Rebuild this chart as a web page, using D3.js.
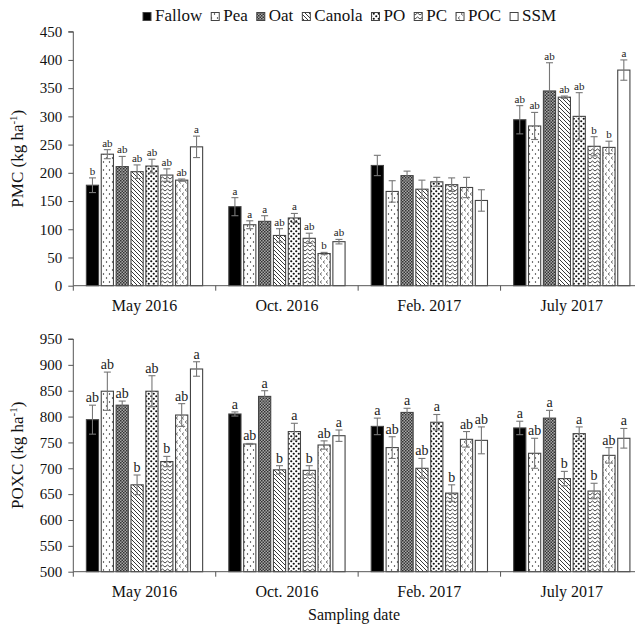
<!DOCTYPE html>
<html>
<head>
<meta charset="utf-8">
<script src="https://cdn.jsdelivr.net/npm/d3@7"></script>
<style>
  body { margin: 0; background: #fff; }
  text { font-family: "Liberation Serif", "Times New Roman", "DejaVu Serif", serif; }
</style>
</head>
<body>
<svg id="chart" width="635" height="624"></svg>
<script>
// sampling dates and cover crop treatments
const dates = ["May 2016", "Oct. 2016", "Feb. 2017", "July 2017"];
const treatments = ["Fallow", "Pea", "Oat", "Canola", "PO", "PC", "POC", "SSM"];

// PMC (kg ha-1), one row per treatment, one value per date
const pmcMean = [
  [178, 140, 213, 294],  // Fallow
  [233, 108, 167, 283],  // Pea
  [211, 114, 195, 345],  // Oat
  [202, 89, 171, 334],   // Canola
  [212, 120, 184, 300],  // PO
  [196, 84, 179, 247],   // PC
  [187, 57, 174, 245],   // POC
  [246, 78, 151, 382]    // SSM
];
const pmcErr = [
  [13, 16, 18, 25],
  [8, 7, 19, 24],
  [18, 10, 8, 50],
  [12, 12, 16, 2],
  [12, 8, 8, 42],
  [11, 9, 12, 17],
  [2, 2, 18, 11],
  [19, 4, 19, 18]
];
// letters per date (row) and treatment (column)
const pmcLetters = [
  ["b", "ab", "ab", "ab", "ab", "ab", "ab", "a"],
  ["a", "a", "a", "ab", "a", "ab", "b", "ab"],
  ["", "", "", "", "", "", "", ""],
  ["ab", "ab", "ab", "ab", "ab", "b", "b", "a"]
];

// POXC (kg ha-1)
const poxcMean = [
  [794, 805, 781, 778],
  [849, 747, 740, 729],
  [822, 839, 808, 797],
  [668, 697, 700, 680],
  [849, 771, 789, 767],
  [713, 696, 652, 656],
  [803, 745, 756, 725],
  [892, 763, 754, 758]
];
const poxcErr = [
  [28, 4, 16, 13],
  [37, 1, 21, 29],
  [8, 11, 8, 15],
  [19, 8, 19, 14],
  [30, 16, 15, 13],
  [10, 9, 16, 15],
  [22, 8, 15, 15],
  [14, 11, 26, 19]
];
const poxcLetters = [
  ["ab", "ab", "ab", "b", "ab", "b", "ab", "a"],
  ["a", "ab", "a", "b", "a", "b", "ab", "a"],
  ["a", "ab", "a", "ab", "a", "b", "ab", "ab"],
  ["a", "ab", "a", "b", "a", "b", "ab", "a"]
];

const pmcTicks = d3.range(0, 451, 50);
const poxcTicks = d3.range(500, 951, 50);

const serif = "Liberation Serif, Times New Roman, DejaVu Serif, serif";
const svg = d3.select("#chart").attr("font-family", serif);
const defs = svg.append("defs");

// fill patterns for each treatment
function makePattern(id, w, h, draw) {
  const p = defs.append("pattern")
    .attr("id", id)
    .attr("patternUnits", "userSpaceOnUse")
    .attr("width", w)
    .attr("height", h);
  p.append("rect").attr("width", w).attr("height", h).attr("fill", "#fff");
  draw(p);
}
makePattern("pea", 6, 8, p => {
  p.append("circle").attr("cx", 1.5).attr("cy", 2).attr("r", 0.7).attr("fill", "#222");
  p.append("circle").attr("cx", 4.5).attr("cy", 6).attr("r", 0.7).attr("fill", "#222");
});
makePattern("oat", 3, 3, p => {
  p.select("rect").attr("fill", "#a8a8a8");
  p.append("rect").attr("width", 1.5).attr("height", 1.5).attr("fill", "#333");
  p.append("rect").attr("x", 1.5).attr("y", 1.5).attr("width", 1.5).attr("height", 1.5).attr("fill", "#333");
});
makePattern("canola", 4, 4, p => {
  p.append("path").attr("d", "M-1,-1L5,5M-1,3L1,5M3,-1L5,1")
    .attr("stroke", "#222").attr("stroke-width", 0.9);
});
makePattern("po", 5, 5, p => {
  p.append("circle").attr("cx", 1.25).attr("cy", 1.25).attr("r", 1.1).attr("fill", "#111");
  p.append("circle").attr("cx", 3.75).attr("cy", 3.75).attr("r", 1.1).attr("fill", "#111");
});
makePattern("pc", 5, 4, p => {
  p.append("path").attr("d", "M0,3L2.5,1L5,3")
    .attr("stroke", "#333").attr("stroke-width", 0.9).attr("fill", "none");
});
makePattern("poc", 6, 8, p => {
  p.append("path").attr("d", "M4,0.5L2,2L4,3.5M1,4.5L-1,6L1,7.5M7,4.5L5,6L7,7.5")
    .attr("stroke", "#444").attr("stroke-width", 0.7).attr("fill", "none");
});

const fills = ["#000", "url(#pea)", "url(#oat)", "url(#canola)", "url(#po)", "url(#pc)", "url(#poc)", "#fff"];

const x0 = d3.scaleBand().domain(dates).range([73.3, 643]);
const x1 = d3.scaleBand().domain(treatments).range([0, x0.bandwidth()])
  .paddingInner(0.18).paddingOuter(0.88);

const axisColor = "#555";

function drawPanel(mean, err, letters, ticks, yRange, title, labelY, letterSize) {
  const y = d3.scaleLinear().domain([ticks[0], ticks[ticks.length - 1]]).range(yRange);
  const g = svg.append("g");

  // bars
  const rows = [];
  treatments.forEach((t, i) => {
    dates.forEach((d, j) => {
      rows.push({ t, d, i, j, v: mean[i][j], e: err[i][j], l: letters[j][i] });
    });
  });

  g.selectAll("rect.bar")
    .data(rows)
    .join("rect")
    .attr("class", "bar")
    .attr("x", r => x0(r.d) + x1(r.t))
    .attr("y", r => y(r.v))
    .attr("width", x1.bandwidth())
    .attr("height", r => y(ticks[0]) - y(r.v))
    .attr("fill", r => fills[r.i])
    .attr("stroke", "#444")
    .attr("stroke-width", 1.1);

  // error bars
  const eb = g.selectAll("g.err")
    .data(rows)
    .join("g")
    .attr("class", "err")
    .attr("stroke", "#777")
    .attr("stroke-width", 1.1);
  const cx = r => x0(r.d) + x1(r.t) + x1.bandwidth() / 2;
  eb.append("line")
    .attr("x1", cx).attr("x2", cx)
    .attr("y1", r => y(r.v - r.e)).attr("y2", r => y(r.v + r.e));
  eb.append("line")
    .attr("x1", r => cx(r) - 3.5).attr("x2", r => cx(r) + 3.5)
    .attr("y1", r => y(r.v + r.e)).attr("y2", r => y(r.v + r.e));
  eb.append("line")
    .attr("x1", r => cx(r) - 3.5).attr("x2", r => cx(r) + 3.5)
    .attr("y1", r => y(r.v - r.e)).attr("y2", r => y(r.v - r.e));

  // significance letters
  g.selectAll("text.letter")
    .data(rows.filter(r => r.l))
    .join("text")
    .attr("class", "letter")
    .attr("x", cx)
    .attr("y", r => y(r.v + r.e) - 3)
    .attr("text-anchor", "middle")
    .attr("font-size", letterSize)
    .attr("fill", "#222")
    .text(r => r.l);

  // y axis
  const yAxis = g.append("g")
    .attr("transform", "translate(73.3,0)")
    .call(d3.axisLeft(y).tickValues(ticks).tickSize(5).tickPadding(6))
    .attr("font-family", serif);
  yAxis.selectAll("path, line").attr("stroke", axisColor);
  yAxis.select(".domain").attr("d", `M-5,${y(ticks[ticks.length - 1])}H0V${y(ticks[0])}`);
  yAxis.selectAll("text")
    .attr("font-size", 15)
    .attr("fill", "#111");

  // x axis: baseline with ticks at group boundaries
  const base = y(ticks[0]);
  g.append("line")
    .attr("x1", 73.3).attr("x2", 643)
    .attr("y1", base).attr("y2", base)
    .attr("stroke", axisColor);
  g.selectAll("line.xt")
    .data(dates.concat(["end"]))
    .join("line")
    .attr("class", "xt")
    .attr("x1", d => d === "end" ? 643 : x0(d))
    .attr("x2", d => d === "end" ? 643 : x0(d))
    .attr("y1", base).attr("y2", base + 5)
    .attr("stroke", axisColor);
  g.selectAll("text.cat")
    .data(dates)
    .join("text")
    .attr("class", "cat")
    .attr("x", d => x0(d) + x0.bandwidth() / 2)
    .attr("y", labelY)
    .attr("text-anchor", "middle")
    .attr("font-size", 16)
    .attr("fill", "#111")
    .text(d => d);

  // y title
  const t = g.append("text")
    .attr("transform", `translate(23,${(yRange[0] + yRange[1]) / 2}) rotate(-90)`)
    .attr("text-anchor", "middle")
    .attr("font-size", 17)
    .attr("fill", "#111");
  t.append("tspan").text(title + " (kg ha");
  t.append("tspan").attr("font-size", 11).attr("dy", -6).text("-1");
  t.append("tspan").attr("dy", 6).text(")");
}

drawPanel(pmcMean, pmcErr, pmcLetters, pmcTicks, [285.7, 31.7], "PMC", 311, 11);
drawPanel(poxcMean, poxcErr, poxcLetters, poxcTicks, [571.7, 339], "POXC", 597, 14);

svg.append("text")
  .attr("x", 354)
  .attr("y", 620)
  .attr("text-anchor", "middle")
  .attr("font-size", 16)
  .attr("fill", "#111")
  .text("Sampling date");

// legend along the top
const legend = svg.append("g");
let lx = 143;
treatments.forEach((t, i) => {
  legend.append("rect")
    .attr("x", lx).attr("y", 12.5)
    .attr("width", 8).attr("height", 8)
    .attr("fill", fills[i])
    .attr("stroke", "#444");
  const txt = legend.append("text")
    .attr("x", lx + 12).attr("y", 21)
    .attr("font-size", 17)
    .attr("fill", "#111")
    .text(t);
  lx += 12 + txt.node().getComputedTextLength() + 9;
});
</script>
</body>
</html>
